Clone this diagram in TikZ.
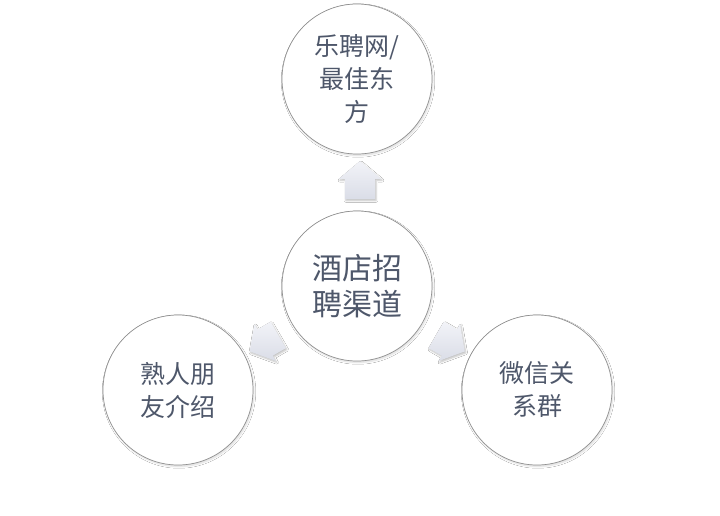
\documentclass[tikz,border=0pt]{standalone}
\usepackage{fontspec}
\newfontfamily\cjk{Noto Sans CJK SC}
\usetikzlibrary{shapes.arrows,shadows.blur,calc}
\definecolor{txtcol}{HTML}{4E576A}
\definecolor{ringcol}{HTML}{909090}
\definecolor{arrtop}{HTML}{F2F3F8}
\definecolor{arrbot}{HTML}{DADDE7}
\tikzset{
  bubble/.style={circle, draw=ringcol, line width=0.7pt, fill=white,
    minimum size=150pt, inner sep=0pt, align=center, text=txtcol,
    blur shadow={shadow xshift=1pt, shadow yshift=-1.5pt, shadow blur steps=6, shadow opacity=15}},
  bigtext/.style={font=\cjk\fontsize{30}{36}\selectfont},
  smalltext/.style={font=\cjk\fontsize{25}{33}\selectfont},
  blockarrow/.style={single arrow, draw=none, top color=arrtop, bottom color=arrbot,
    minimum height=38pt, inner xsep=0pt, inner ysep=15pt, single arrow head extend=6pt,
    single arrow tip angle=100,
    blur shadow={shadow xshift=1pt, shadow yshift=-1.5pt, shadow blur steps=4, shadow opacity=25}},
  sidearrow/.style={blockarrow, minimum height=33pt}
}
\begin{document}
\begin{tikzpicture}[x=1pt,y=-1pt]
\fill[white] (0,0) rectangle (720,515);
\useasboundingbox (0,0) rectangle (720,515);
\node[bubble, bigtext] (c) at (357,286) {酒店招\\聘渠道};
\node[bubble, smalltext] (t) at (357,79) {乐聘网/\\最佳东\\方};
\node[bubble, smalltext] (l) at (178,390) {熟人朋\\友介绍};
\node[bubble, smalltext] (r) at (537,390) {微信关\\系群};
\node[blockarrow, rotate=90] (at) at ($(c)!0.5!(t)+(3,4)$) {};
\node[sidearrow, rotate=210] (al) at ($(c)!0.5!(l)+(2,2)$) {};
\node[sidearrow, rotate=-30] (ar) at ($(c)!0.5!(r)+(-2,2)$) {};
\end{tikzpicture}
\end{document}
